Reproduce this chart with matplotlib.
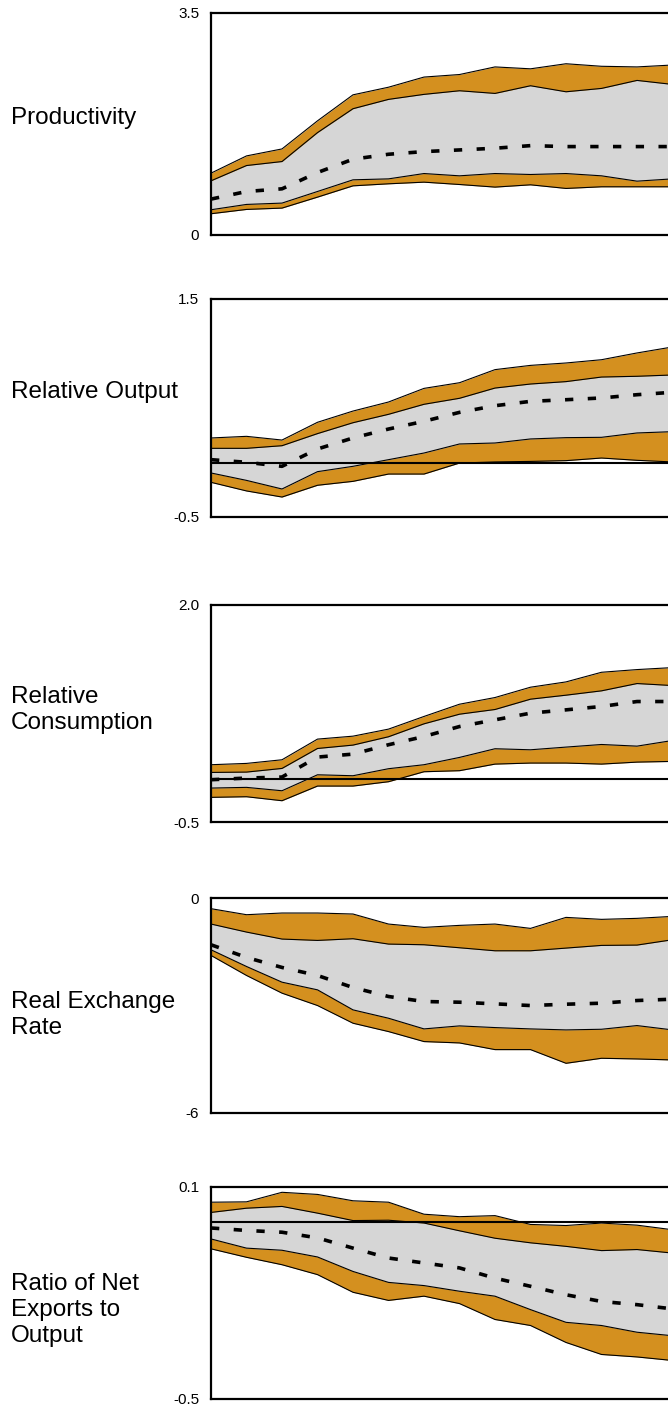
import matplotlib
matplotlib.use("Agg")
import matplotlib.pyplot as plt
import numpy as np

plt.rcParams["font.family"] = ["Liberation Sans", "DejaVu Sans"]

# quarters after the shock (only the first 14 are visible in the picture)
quarters = np.arange(14)

labels = ["Productivity", "Relative Output", "Relative\nConsumption",
          "Real Exchange\nRate", "Ratio of Net\nExports to\nOutput"]
ylims = [(0, 3.5), (-0.5, 1.5), (-0.5, 2.0), (-6, 0), (-0.5, 0.1)]
tick_text = [("0", "3.5"), ("-0.5", "1.5"), ("-0.5", "2.0"), ("-6", "0"), ("-0.5", "0.1")]
zero_line = [False, True, True, False, True]

# bands: outer high, inner high, median, inner low, outer low
prod_outer_hi = [0.975, 1.247, 1.357, 1.80, 2.21, 2.33, 2.49, 2.53, 2.65, 2.62, 2.70, 2.66, 2.65, 2.68]
prod_inner_hi = [0.854, 1.095, 1.158, 1.614, 1.991, 2.138, 2.217, 2.274, 2.232, 2.353, 2.258, 2.311, 2.437, 2.374]
prod_median = [0.566, 0.686, 0.728, 0.985, 1.195, 1.273, 1.315, 1.341, 1.368, 1.409, 1.394, 1.394, 1.394, 1.394]
prod_inner_lo = [0.398, 0.482, 0.503, 0.686, 0.870, 0.885, 0.969, 0.933, 0.969, 0.954, 0.969, 0.933, 0.849, 0.885]
prod_outer_lo = [0.335, 0.403, 0.424, 0.597, 0.775, 0.807, 0.833, 0.796, 0.755, 0.791, 0.734, 0.760, 0.760, 0.760]

out_outer_hi = [0.225, 0.240, 0.206, 0.369, 0.472, 0.555, 0.680, 0.732, 0.852, 0.891, 0.913, 0.943, 1.005, 1.060]
out_inner_hi = [0.130, 0.130, 0.154, 0.265, 0.365, 0.442, 0.534, 0.589, 0.683, 0.720, 0.742, 0.784, 0.791, 0.803]
out_median = [0.026, 0.002, -0.035, 0.124, 0.225, 0.307, 0.378, 0.460, 0.521, 0.561, 0.576, 0.592, 0.622, 0.644]
out_inner_lo = [-0.096, -0.164, -0.243, -0.084, -0.035, 0.026, 0.087, 0.170, 0.179, 0.216, 0.228, 0.231, 0.271, 0.283]
out_outer_lo = [-0.182, -0.261, -0.317, -0.209, -0.173, -0.106, -0.106, -0.005, 0.005, 0.010, 0.017, 0.041, 0.020, 0.005]

cons_outer_hi = [0.160, 0.175, 0.217, 0.455, 0.489, 0.570, 0.716, 0.857, 0.934, 1.053, 1.114, 1.225, 1.256, 1.279]
cons_inner_hi = [0.071, 0.075, 0.117, 0.347, 0.386, 0.482, 0.631, 0.742, 0.796, 0.915, 0.961, 1.011, 1.095, 1.072]
cons_median = [-0.013, 0.006, 0.018, 0.248, 0.282, 0.390, 0.485, 0.600, 0.677, 0.754, 0.792, 0.831, 0.888, 0.888]
cons_inner_lo = [-0.109, -0.101, -0.140, 0.044, 0.033, 0.114, 0.160, 0.244, 0.344, 0.332, 0.363, 0.393, 0.374, 0.439]
cons_outer_lo = [-0.216, -0.209, -0.255, -0.086, -0.086, -0.036, 0.079, 0.091, 0.167, 0.179, 0.179, 0.167, 0.190, 0.198]

rer_outer_hi = [-0.298, -0.466, -0.419, -0.419, -0.447, -0.727, -0.820, -0.764, -0.727, -0.848, -0.541, -0.596, -0.568, -0.513]
rer_inner_hi = [-0.727, -0.951, -1.146, -1.184, -1.137, -1.286, -1.305, -1.389, -1.473, -1.473, -1.398, -1.323, -1.314, -1.165]
rer_median = [-1.305, -1.659, -1.938, -2.162, -2.498, -2.749, -2.889, -2.908, -2.954, -3.001, -2.964, -2.936, -2.861, -2.824]
rer_inner_lo = [-1.445, -1.911, -2.349, -2.563, -3.122, -3.355, -3.653, -3.569, -3.616, -3.653, -3.681, -3.663, -3.560, -3.681]
rer_outer_lo = [-1.603, -2.162, -2.656, -3.001, -3.495, -3.728, -4.007, -4.045, -4.231, -4.231, -4.613, -4.473, -4.492, -4.520]

nx_outer_hi = [0.057, 0.058, 0.085, 0.079, 0.061, 0.057, 0.023, 0.016, 0.019, -0.006, -0.009, -0.002, -0.008, -0.021]
nx_inner_hi = [0.028, 0.040, 0.045, 0.026, 0.005, 0.006, -0.002, -0.024, -0.045, -0.058, -0.068, -0.080, -0.077, -0.087]
nx_median = [-0.016, -0.023, -0.028, -0.044, -0.073, -0.101, -0.115, -0.129, -0.158, -0.181, -0.205, -0.224, -0.233, -0.245]
nx_inner_lo = [-0.047, -0.073, -0.079, -0.098, -0.139, -0.170, -0.179, -0.195, -0.209, -0.247, -0.283, -0.292, -0.311, -0.321]
nx_outer_lo = [-0.075, -0.099, -0.120, -0.148, -0.198, -0.221, -0.209, -0.230, -0.275, -0.292, -0.340, -0.374, -0.381, -0.391]

bands = [
    (prod_outer_hi, prod_inner_hi, prod_median, prod_inner_lo, prod_outer_lo),
    (out_outer_hi, out_inner_hi, out_median, out_inner_lo, out_outer_lo),
    (cons_outer_hi, cons_inner_hi, cons_median, cons_inner_lo, cons_outer_lo),
    (rer_outer_hi, rer_inner_hi, rer_median, rer_inner_lo, rer_outer_lo),
    (nx_outer_hi, nx_inner_hi, nx_median, nx_inner_lo, nx_outer_lo),
]

W, H = 668, 1410
fig = plt.figure(figsize=(W / 100, H / 100), dpi=100)

# panel frames in pixels (top, bottom) and where the row label sits
frames = [(13, 235), (299, 517), (605, 822), (898, 1113), (1187, 1399)]
label_y = [118, 392, 710, 1015, 1310]
x_left, x_right = 211, 672.5

orange = "#D4901F"
grey = "#D6D6D6"

for i in range(5):
    top, bot = frames[i]
    ax = fig.add_axes([x_left / W, (H - bot) / H, (x_right - x_left) / W, (bot - top) / H])
    ohi, ihi, med, ilo, olo = bands[i]
    ax.fill_between(quarters, olo, ohi, color=orange, lw=0)
    ax.fill_between(quarters, ilo, ihi, color=grey, lw=0)
    for s in (ohi, ihi, ilo, olo):
        ax.plot(quarters, s, color="black", lw=0.8)
    ax.plot(quarters, med, color="black", lw=2.6, linestyle=(0, (2.3, 4.0)),
            dash_capstyle="butt")
    if zero_line[i]:
        ax.axhline(0, color="black", lw=1.5)
    ax.set_xlim(0, 13)
    ax.set_ylim(*ylims[i])
    ax.set_xticks([])
    ax.set_yticks(ylims[i])
    ax.set_yticklabels(tick_text[i])
    ax.tick_params(axis="y", length=0, pad=8.5, labelsize=11)
    for sp in ax.spines.values():
        sp.set_linewidth(1.6)
    fig.text(11 / W, (H - label_y[i]) / H, labels[i], fontsize=17.5,
             ha="left", va="center", linespacing=1.26)

fig.savefig("out.png", dpi=100)
